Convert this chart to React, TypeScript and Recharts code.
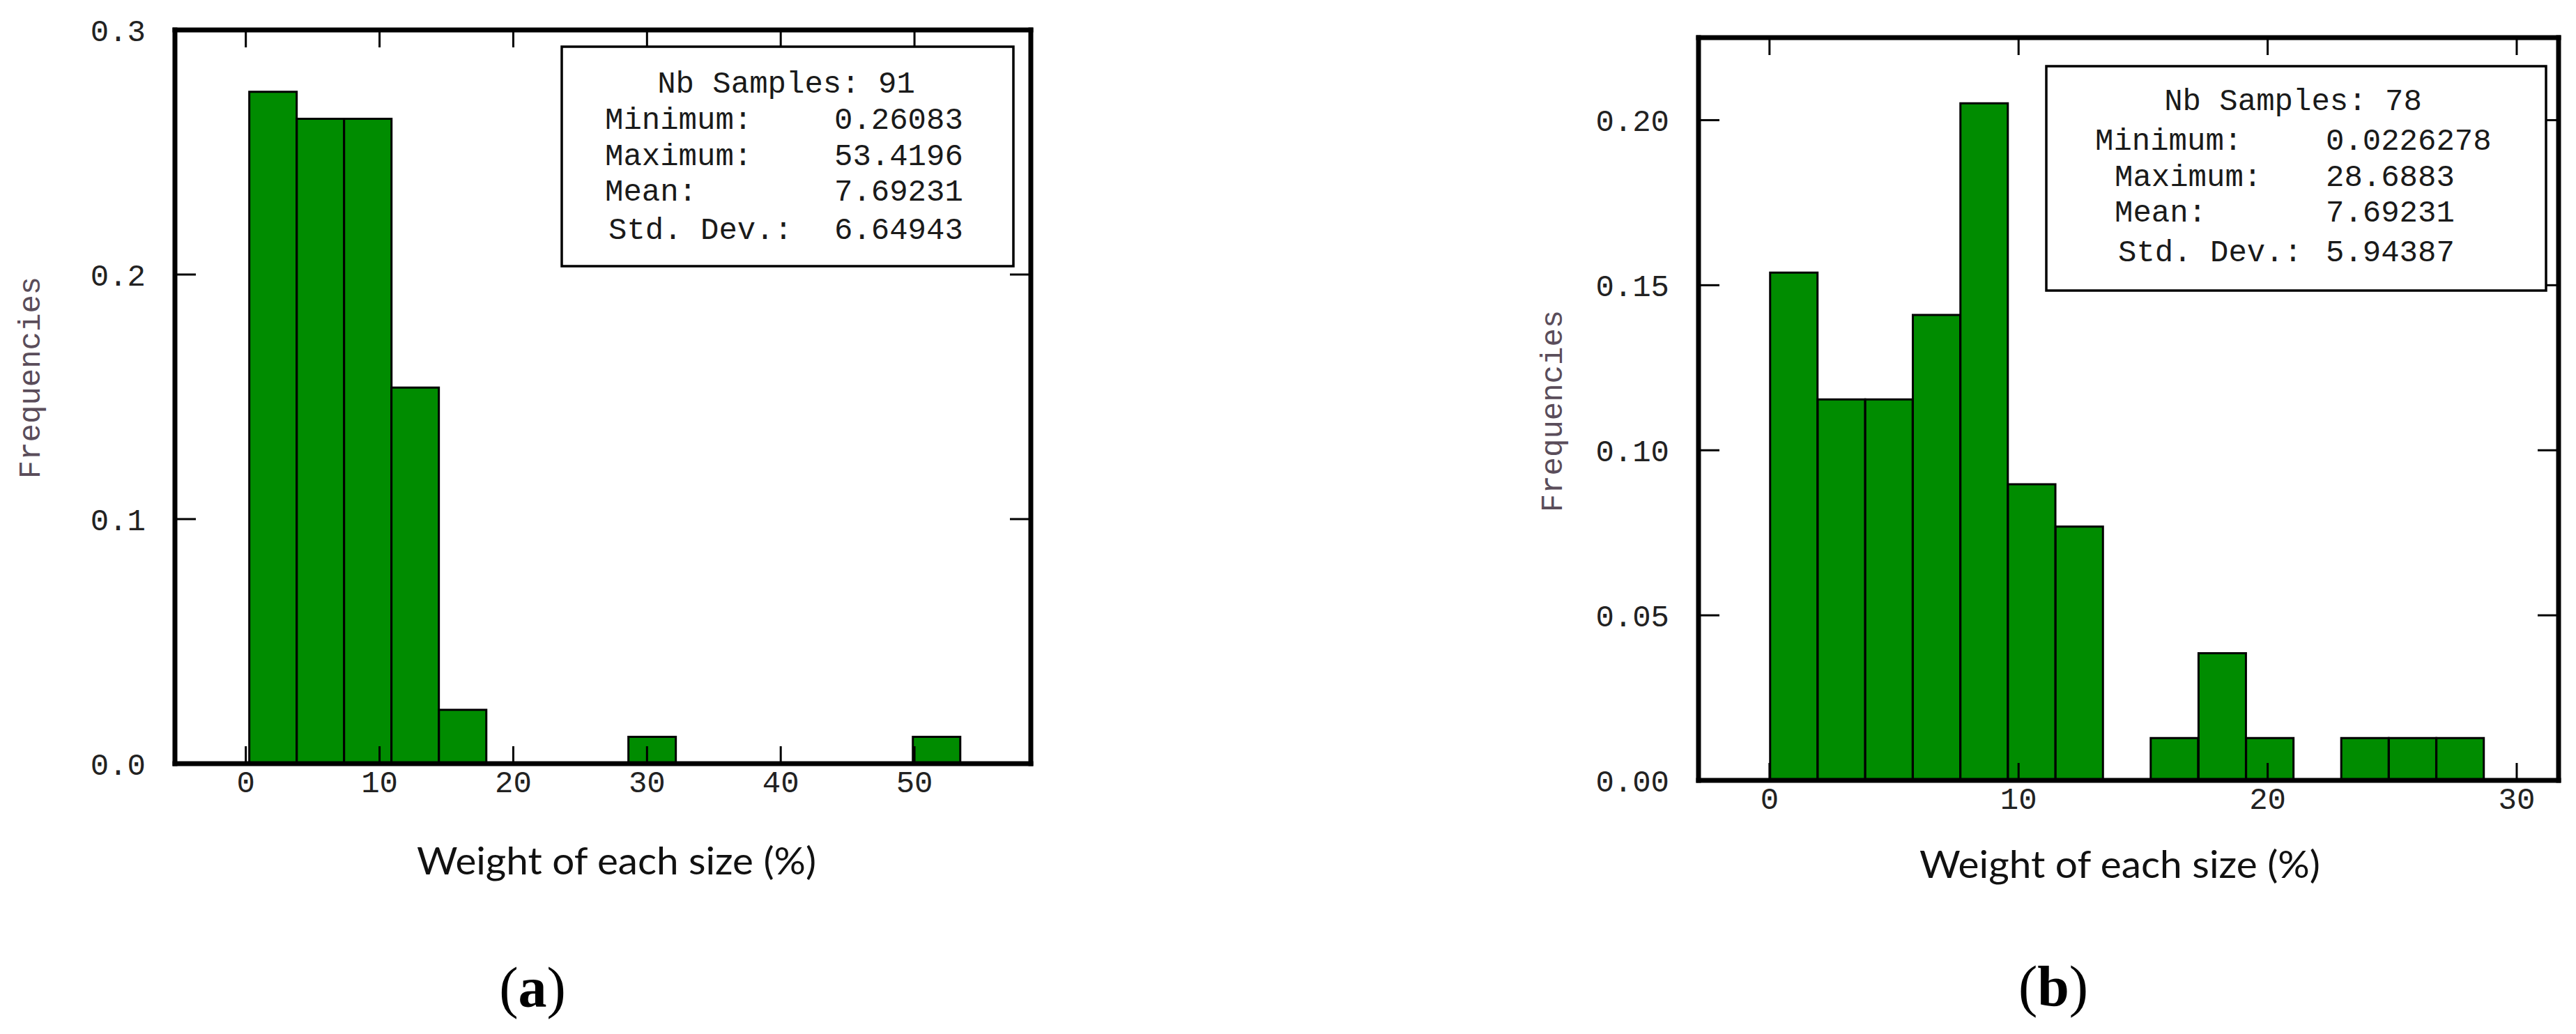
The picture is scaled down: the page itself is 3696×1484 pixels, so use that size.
import { BarChart, Bar, XAxis, YAxis } from 'recharts';

// panel (a): 91 samples, 15 bins of ~3.544 starting at 0.26083
const binCentersA = [2.03, 5.58, 9.12, 12.66, 16.21, 19.75, 23.3, 26.84, 30.38, 33.93, 37.47, 41.02, 44.56, 48.1, 51.65];
const freqA = [0.2747, 0.2637, 0.2637, 0.1538, 0.022, 0, 0, 0, 0.011, 0, 0, 0, 0, 0, 0.011];
const xTicksA = [0, 10, 20, 30, 40, 50];
const yTicksA = [0, 0.1, 0.2, 0.3];
const statValuesA = ['0.26083', '53.4196', '7.69231', '6.64943'];
const samplesA = 91;

// panel (b): 78 samples, 15 bins of ~1.911 starting at 0.0226278
const binCentersB = [0.98, 2.89, 4.8, 6.71, 8.62, 10.53, 12.44, 14.35, 16.26, 18.18, 20.09, 22.0, 23.91, 25.82, 27.73];
const freqB = [0.1538, 0.1154, 0.1154, 0.141, 0.2051, 0.0897, 0.0769, 0, 0.0128, 0.0385, 0.0128, 0, 0.0128, 0.0128, 0.0128];
const xTicksB = [0, 10, 20, 30];
const yTicksB = [0, 0.05, 0.1, 0.15, 0.2];
const statValuesB = ['0.0226278', '28.6883', '7.69231', '5.94387'];
const samplesB = 78;

const statLabels = ['Minimum:', 'Maximum:', 'Mean:', 'Std. Dev.:'];
const xTitle = 'Weight of each size (%)';
const yTitle = 'Frequencies';

const GREEN = '#008c00';
const MONO = '"Liberation Mono", "DejaVu Sans Mono", monospace';
const tickFont = { fill: '#222', fontSize: 44, fontFamily: MONO };
const frameLine = { stroke: '#000', strokeWidth: 7, strokeLinecap: 'square' as const };
const tickStroke = { stroke: '#000', strokeWidth: 3 };

const NoLabel = () => <g />;

type HistProps = {
  centers: number[];
  freqs: number[];
  xDomain: [number, number];
  yDomain: [number, number];
  xTicks: number[];
  yTicks: number[];
  decimals: number;
  left: number;
  width: number;
  margin: { top: number; right: number; bottom: number; left: number };
};

function Histogram({ centers, freqs, xDomain, yDomain, xTicks, yTicks, decimals, left, width, margin }: HistProps) {
  const data = centers.map((x, i) => ({ x, freq: freqs[i] }));
  return (
    <div style={{ position: 'absolute', left, top: 0, width, height: 1484 }}>
      <BarChart width={width} height={1484} data={data} margin={margin} barCategoryGap={0} barGap={0}>
        <XAxis
          xAxisId="b"
          dataKey="x"
          type="number"
          domain={xDomain}
          allowDataOverflow
          ticks={xTicks}
          interval={0}
          height={100}
          tickSize={-25}
          tickMargin={35}
          axisLine={frameLine}
          tickLine={tickStroke}
          tick={tickFont}
        />
        <XAxis
          xAxisId="t"
          orientation="top"
          dataKey="x"
          type="number"
          domain={xDomain}
          allowDataOverflow
          ticks={xTicks}
          interval={0}
          height={1}
          tickSize={-25}
          axisLine={frameLine}
          tickLine={tickStroke}
          tick={NoLabel}
        />
        <YAxis
          yAxisId="l"
          type="number"
          domain={yDomain}
          allowDataOverflow
          ticks={yTicks}
          interval={0}
          width={200}
          tickSize={-30}
          tickMargin={72}
          axisLine={frameLine}
          tickLine={tickStroke}
          tick={tickFont}
          tickFormatter={(v: number) => v.toFixed(decimals)}
        />
        <YAxis
          yAxisId="r"
          orientation="right"
          type="number"
          domain={yDomain}
          allowDataOverflow
          ticks={yTicks}
          interval={0}
          width={1}
          tickSize={-30}
          axisLine={frameLine}
          tickLine={tickStroke}
          tick={NoLabel}
        />
        <Bar
          xAxisId="b"
          yAxisId="l"
          dataKey="freq"
          fill={GREEN}
          stroke="#000"
          strokeWidth={3}
          isAnimationActive={false}
        />
      </BarChart>
    </div>
  );
}

type BoxLayout = {
  x: number;
  y: number;
  w: number;
  h: number;
  cx: number;
  labelX: number[];
  valueX: number;
  baselines: number[];
};

function StatsBox({ box, samples, values }: { box: BoxLayout; samples: number; values: string[] }) {
  return (
    <g fontFamily={MONO} fontSize={44} fill="#1a1a1a">
      <rect x={box.x} y={box.y} width={box.w} height={box.h} fill="#fff" stroke="#000" strokeWidth={3.5} />
      <text x={box.cx} y={box.baselines[0]} textAnchor="middle" xmlSpace="preserve">
        {`Nb Samples: ${samples}`}
      </text>
      {statLabels.map((lab, i) => (
        <g key={lab}>
          <text x={box.labelX[i]} y={box.baselines[i + 1]}>{lab}</text>
          <text x={box.valueX} y={box.baselines[i + 1]}>{values[i]}</text>
        </g>
      ))}
    </g>
  );
}

const boxA: BoxLayout = {
  x: 806, y: 67, w: 648, h: 315, cx: 1128,
  labelX: [868, 868, 868, 873], valueX: 1197,
  baselines: [133, 185, 237, 288, 343],
};
const boxB: BoxLayout = {
  x: 2936, y: 95, w: 717, h: 322, cx: 3290,
  labelX: [3006, 3034, 3034, 3039], valueX: 3337,
  baselines: [158, 215, 267, 318, 375],
};

export default function App() {
  return (
    <div style={{ position: 'fixed', left: 0, top: 0, width: 3696, height: 1484, background: '#fff', overflow: 'hidden' }}>
      <Histogram
        centers={binCentersA}
        freqs={freqA}
        xDomain={[-5.3, 58.7]}
        yDomain={[0, 0.3]}
        xTicks={xTicksA}
        yTicks={yTicksA}
        decimals={1}
        left={0}
        width={1700}
        margin={{ top: 42, right: 220, bottom: 288, left: 51 }}
      />
      <Histogram
        centers={binCentersB}
        freqs={freqB}
        xDomain={[-2.85, 31.68]}
        yDomain={[0, 0.225]}
        xTicks={xTicksB}
        yTicks={yTicksB}
        decimals={2}
        left={2200}
        width={1496}
        margin={{ top: 53, right: 24, bottom: 264, left: 37 }}
      />
      <svg width={3696} height={1484} style={{ position: 'absolute', left: 0, top: 0, pointerEvents: 'none' }}>
        <StatsBox box={boxA} samples={samplesA} values={statValuesA} />
        <StatsBox box={boxB} samples={samplesB} values={statValuesB} />
        <text x={45} y={542} transform="rotate(-90 45 542)" textAnchor="middle" dominantBaseline="central"
          fontFamily={MONO} fontSize={44} fill="#5a4d5a">{yTitle}</text>
        <text x={2229} y={590} transform="rotate(-90 2229 590)" textAnchor="middle" dominantBaseline="central"
          fontFamily={MONO} fontSize={44} fill="#5a4d5a">{yTitle}</text>
        <text x={598} y={1255} textLength={573} lengthAdjust="spacingAndGlyphs"
          fontFamily="Lato, 'Open Sans', sans-serif" fontSize={54} fill="#111">{xTitle}</text>
        <text x={2754} y={1260} textLength={575} lengthAdjust="spacingAndGlyphs"
          fontFamily="Lato, 'Open Sans', sans-serif" fontSize={54} fill="#111">{xTitle}</text>
        <text x={764} y={1445} textAnchor="middle" fontFamily="'Liberation Serif', serif" fontSize={82} fill="#000">
          (<tspan fontWeight="bold">a</tspan>)
        </text>
        <text x={2946} y={1443} textAnchor="middle" fontFamily="'Liberation Serif', serif" fontSize={82} fill="#000">
          (<tspan fontWeight="bold">b</tspan>)
        </text>
      </svg>
    </div>
  );
}
